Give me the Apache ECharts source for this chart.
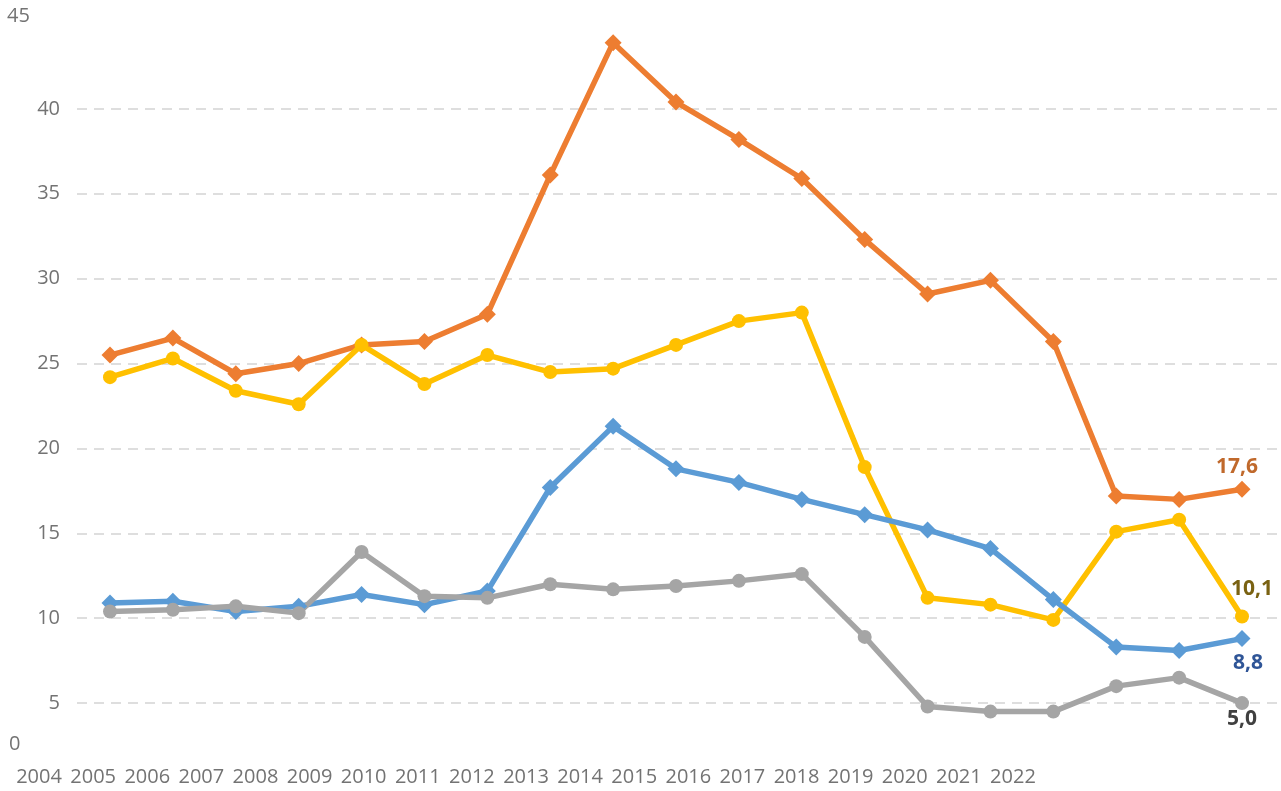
<!DOCTYPE html>
<html>
<head>
<meta charset="utf-8">
<script src="https://cdn.jsdelivr.net/npm/echarts@6/dist/echarts.min.js"></script>
<style>
  html, body { margin: 0; padding: 0; background: #fff; }
  #chart { width: 1281px; height: 791px; }
</style>
</head>
<body>
<div id="chart"></div>
<script>
var years = ['2004', '2005', '2006', '2007', '2008', '2009', '2010', '2011', '2012', '2013',
  '2014', '2015', '2016', '2017', '2018', '2019', '2020', '2021', '2022'];

var orangeVals = [25.5, 26.5, 24.4, 25.0, 26.1, 26.3, 27.9, 36.1, 43.9, 40.4,
  38.2, 35.9, 32.3, 29.1, 29.9, 26.3, 17.2, 17.0, 17.6];
var yellowVals = [24.2, 25.3, 23.4, 22.6, 26.1, 23.8, 25.5, 24.5, 24.7, 26.1,
  27.5, 28.0, 18.9, 11.2, 10.8, 9.9, 15.1, 15.8, 10.1];
var blueVals = [10.9, 11.0, 10.4, 10.7, 11.4, 10.8, 11.6, 17.7, 21.3, 18.8,
  18.0, 17.0, 16.1, 15.2, 14.1, 11.1, 8.3, 8.1, 8.8];
var greyVals = [10.4, 10.5, 10.7, 10.3, 13.9, 11.3, 11.2, 12.0, 11.7, 11.9,
  12.2, 12.6, 8.9, 4.8, 4.5, 4.5, 6.0, 6.5, 5.0];

var yMin = 0, yMax = 45, yStep = 5;
var yEdgeLabels = ['45', '0'];

var chart = echarts.init(document.getElementById('chart'), null, { renderer: 'canvas' });
var muted = '#737373', rule = '#d4d4d4';
var font = '"Open Sans", "Noto Sans", sans-serif';

function pairs(vals) {
  return vals.map(function(v, i) { return [i, v]; });
}

function lineSeries(name, vals, color, symbol, size, labelColor, offset) {
  var data = pairs(vals);
  var last = data.length - 1;
  data[last] = {
    value: data[last],
    label: {
      show: true, position: 'inside', offset: offset,
      color: labelColor, fontFamily: font, fontWeight: 'bold', fontSize: 21,
      formatter: function(p) { return p.value[1].toFixed(1).replace('.', ','); }
    }
  };
  return {
    name: name, type: 'line', xAxisIndex: 0, yAxisIndex: 0,
    data: data, symbol: symbol, symbolSize: size,
    lineStyle: { color: color, width: 5.5 },
    itemStyle: { color: color },
    emphasis: { disabled: true },
    z: 3
  };
}

chart.setOption({
  animation: false,
  grid: [
    { left: 77, right: 0, top: 24, bottom: 3 },
    { left: 12, width: 1028, top: 757, height: 1 }
  ],
  xAxis: [
    {
      type: 'value', gridIndex: 0, min: -0.525, max: 18.62,
      axisLine: { show: false }, axisTick: { show: false },
      axisLabel: { show: false }, splitLine: { show: false }
    },
    {
      type: 'category', gridIndex: 1, data: years, boundaryGap: true,
      axisLine: { show: false }, axisTick: { show: false }, splitLine: { show: false },
      axisLabel: { color: muted, fontFamily: font, fontSize: 20, margin: 9, interval: 0 }
    }
  ],
  yAxis: [
    {
      type: 'value', gridIndex: 0, min: yMin, max: yMax, interval: yStep,
      axisLine: { show: false }, axisTick: { show: false },
      axisLabel: {
        color: muted, fontFamily: font, fontSize: 20, margin: 17,
        formatter: function(v) { return (v === yMin || v === yMax) ? '' : String(v); }
      },
      splitLine: { show: true, showMinLine: false, showMaxLine: false,
        lineStyle: { color: rule, width: 1.5, type: [10, 7] } }
    },
    { type: 'value', gridIndex: 1, show: false }
  ],
  graphic: [
    { type: 'text', left: 7, top: 6, style: { text: yEdgeLabels[0], fill: muted, font: '20px ' + font } },
    { type: 'text', left: 9, top: 734, style: { text: yEdgeLabels[1], fill: muted, font: '20px ' + font } }
  ],
  series: [
    lineSeries('Series 1', orangeVals, '#ED7D31', 'diamond', 17, '#c0692c', [-5, -22]),
    lineSeries('Series 3', yellowVals, '#FFC000', 'circle', 14, '#7a6212', [10, -28]),
    lineSeries('Series 2', blueVals, '#5B9BD5', 'diamond', 17, '#2f5597', [6, 24]),
    lineSeries('Series 4', greyVals, '#A5A5A5', 'circle', 14, '#404040', [0, 16])
  ]
});
window.addEventListener('resize', function() { chart.resize(); });
</script>
</body>
</html>
